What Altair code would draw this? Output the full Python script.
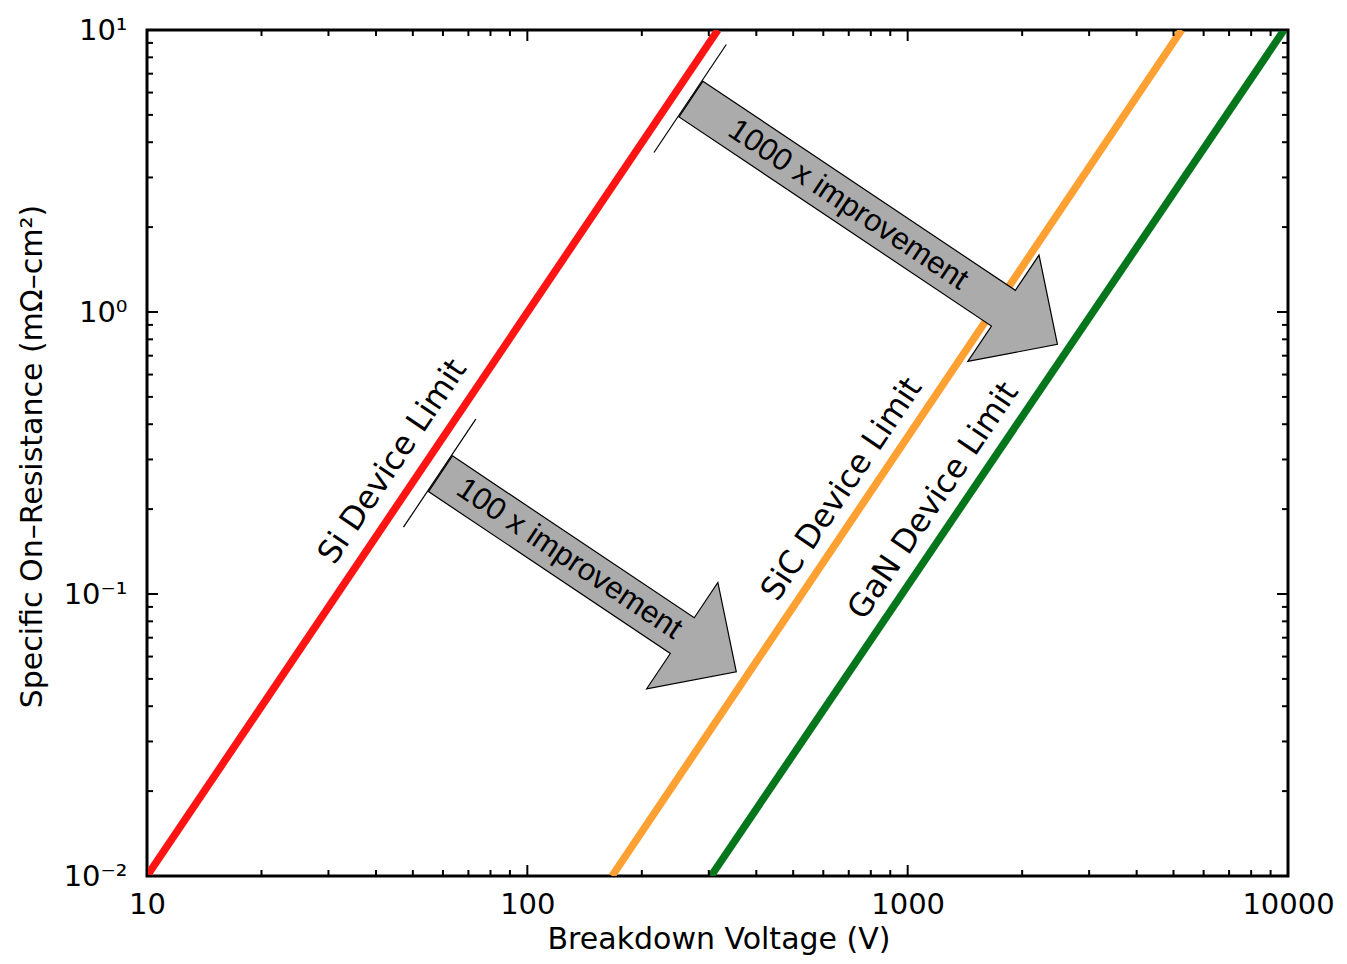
import altair as alt
import pandas as pd

# ---------------- data ----------------
series_names = ["Si", "SiC", "GaN"]
series_colors = ["#ff1414", "#ffa033", "#06761c"]
si_v = [10, 317]
si_r = [0.01, 10]
sic_v = [167, 5250]
sic_r = [0.01, 10]
gan_v = [304, 9760]
gan_r = [0.01, 10]

label_texts = ["Si Device Limit", "SiC Device Limit", "GaN Device Limit"]
label_v = [44.2, 670.8, 1168]
label_r = [0.295, 0.2353, 0.214]

arrow_texts = ["100 x improvement", "1000 x improvement"]
arrow_tail_v = [59.1, 269.3]
arrow_tail_r = [0.267, 5.69]
arrow_text_v = [128.7, 697]
arrow_text_r = [0.133, 2.395]

x_major = [10, 100, 1000, 10000]
x_minor = [20, 30, 40, 50, 60, 70, 80, 90,
           200, 300, 400, 500, 600, 700, 800, 900,
           2000, 3000, 4000, 5000, 6000, 7000, 8000, 9000]
y_major = [0.01, 0.1, 1, 10]
y_major_labels = ["10\u207b\u00b2", "10\u207b\u00b9", "10\u2070", "10\u00b9"]
y_minor = [0.02, 0.03, 0.04, 0.05, 0.06, 0.07, 0.08, 0.09,
           0.2, 0.3, 0.4, 0.5, 0.6, 0.7, 0.8, 0.9,
           2, 3, 4, 5, 6, 7, 8, 9]

# ---------------- styles ----------------
W, H = 1141, 846
MAJ, MIN = 11, 6
FONT = "DejaVu Sans"
ARROW_ANGLE = 33.8
arrow_shapes = [
    "M0,-21.5L291,-21.5L291,-64L356,0L291,64L291,21.5L0,21.5Z",
    "M0,-21.5L376,-21.5L376,-64L441,0L376,64L376,21.5L0,21.5Z",
]
tail_bar_shape = "M-1,-65L-1,65"

xscale = alt.Scale(type="log", domain=[10, 10000], nice=False)
yscale = alt.Scale(type="log", domain=[0.01, 10], nice=False)

label_expr = " : ".join(
    f"abs(datum.value / {v} - 1) < 0.001 ? '{lab}'" for v, lab in zip(y_major, y_major_labels)
) + " : ''"

X_AXIS = alt.Axis(
    values=x_major, format="d", ticks=False, domain=False, grid=False,
    labelFont=FONT, labelFontSize=29, labelColor="black", labelPadding=14,
    labelFlush=False, labelOverlap=False,
    title="Breakdown Voltage (V)", titleFont=FONT, titleFontSize=30,
    titleFontWeight="normal", titleColor="black",
    titleX=W / 2 + 1, titleY=72, titleAlign="center", titleBaseline="alphabetic")
Y_AXIS = alt.Axis(
    values=y_major, labelExpr=label_expr, ticks=False, domain=False, grid=False,
    labelFont=FONT, labelFontSize=29, labelColor="black", labelPadding=20,
    labelOverlap=False, labelFlush=False,
    title="Specific On\u2013Resistance (m\u03a9\u2013cm\u00b2)", titleFont=FONT,
    titleFontSize=30, titleFontWeight="normal", titleColor="black",
    titleAngle=270, titleX=-115, titleY=426, titleAlign="center",
    titleBaseline="middle")


def X(field):
    return alt.X(field, scale=xscale, axis=X_AXIS)


def Y(field):
    return alt.Y(field, scale=yscale, axis=Y_AXIS)


rows = []
for name, vs, rs in [("Si", si_v, si_r), ("SiC", sic_v, sic_r), ("GaN", gan_v, gan_r)]:
    for i, (v, r) in enumerate(zip(vs, rs)):
        rows.append({"series": name, "V": v, "R": r, "o": i})
lines_df = pd.DataFrame(rows)

lines = alt.Chart(lines_df).mark_line(strokeWidth=7.5, clip=True).encode(
    x=X("V:Q"),
    y=Y("R:Q"),
    color=alt.Color("series:N", scale=alt.Scale(domain=series_names, range=series_colors),
                    legend=None),
    detail="series:N",
    order="o:Q",
)

labels_df = pd.DataFrame({"t": label_texts, "V": label_v, "R": label_r})
labels = alt.Chart(labels_df).mark_text(
    font=FONT, fontSize=32, angle=304, align="center", baseline="middle", color="black"
).encode(x=X("V:Q"), y=Y("R:Q"), text="t:N")


def xticks(vals, L):
    df = pd.DataFrame({"V": vals})
    base = alt.Chart(df).mark_rule(color="black", strokeWidth=2)
    bottom = base.encode(x=X("V:Q"), y=alt.value(H), y2=alt.value(H - L))
    top = base.encode(x=X("V:Q"), y=alt.value(0), y2=alt.value(L))
    return [bottom, top]


def yticks(vals, L):
    df = pd.DataFrame({"R": vals})
    base = alt.Chart(df).mark_rule(color="black", strokeWidth=2)
    left = base.encode(y=Y("R:Q"), x=alt.value(0), x2=alt.value(L))
    right = base.encode(y=Y("R:Q"), x=alt.value(W), x2=alt.value(W - L))
    return [left, right]


tick_layers = xticks(x_major, MAJ) + xticks(x_minor, MIN) + yticks(y_major, MAJ) + yticks(y_minor, MIN)

arrow_layers = []
for i in range(len(arrow_texts)):
    df = pd.DataFrame({"V": [arrow_tail_v[i]], "R": [arrow_tail_r[i]]})
    body = alt.Chart(df).mark_point(
        shape=arrow_shapes[i], size=4, filled=True, fill="#ababab", stroke="black",
        strokeWidth=1.2, opacity=1, angle=ARROW_ANGLE
    ).encode(x=X("V:Q"), y=Y("R:Q"))
    bar = alt.Chart(df).mark_point(
        shape=tail_bar_shape, size=4, filled=False, stroke="black",
        strokeWidth=1.2, opacity=1, angle=ARROW_ANGLE
    ).encode(x=X("V:Q"), y=Y("R:Q"))
    arrow_layers += [body, bar]

arrow_text_df = pd.DataFrame({"t": arrow_texts, "V": arrow_text_v, "R": arrow_text_r})
arrow_text = alt.Chart(arrow_text_df).mark_text(
    font="Liberation Sans", fontSize=31, angle=ARROW_ANGLE, align="center",
    baseline="middle", color="black"
).encode(x=X("V:Q"), y=Y("R:Q"), text="t:N")

chart = alt.layer(lines, labels, *tick_layers, *arrow_layers, arrow_text).properties(
    width=W, height=H,
    autosize=alt.AutoSizeParams(type="none"),
    padding={"left": 139, "top": 22, "right": 51, "bottom": 80},
    background="white",
).configure_view(stroke="black", strokeWidth=3)

chart.save("out.html", embed_options={"renderer": "svg", "actions": False})
